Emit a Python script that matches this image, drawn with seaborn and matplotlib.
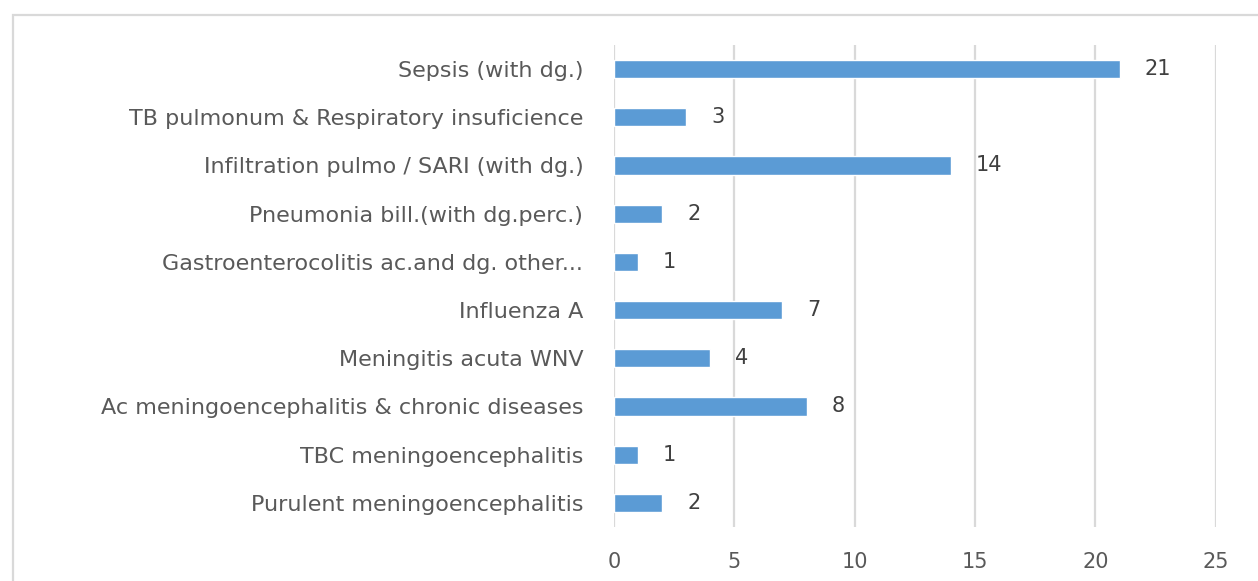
import matplotlib
matplotlib.use("Agg")
import matplotlib.pyplot as plt
import seaborn as sns
import pandas as pd
from matplotlib.patches import Rectangle

# data (top to bottom as shown)
categories = [
    "Sepsis (with dg.)",
    "TB pulmonum & Respiratory insuficience",
    "Infiltration pulmo / SARI (with dg.)",
    "Pneumonia bill.(with dg.perc.)",
    "Gastroenterocolitis ac.and dg. other...",
    "Influenza A",
    "Meningitis acuta WNV",
    "Ac meningoencephalitis & chronic diseases",
    "TBC meningoencephalitis",
    "Purulent meningoencephalitis",
]
counts = [21, 3, 14, 2, 1, 7, 4, 8, 1, 2]
x_ticks = [0, 5, 10, 15, 20, 25]

df = pd.DataFrame({"category": categories, "count": counts})

sns.set_style("white")
plt.rcParams["font.family"] = ["DejaVu Sans"]
text_color = "#595959"
grid_color = "#D9D9D9"

fig = plt.figure(figsize=(12.58, 5.81), dpi=100)
ax = fig.add_axes([0.488, 0.093, 0.4785, 0.8296])

sns.barplot(data=df, x="count", y="category", color="#5B9BD5",
            width=0.38, saturation=1, ax=ax, zorder=3)

# value labels
for c in ax.containers:
    ax.bar_label(c, padding=18, fontsize=15, color="#404040")

ax.set_xlim(0, 25)
ax.set_ylim(len(categories) - 0.5, -0.5)
ax.set_xticks(x_ticks)
ax.set_xlabel("")
ax.set_ylabel("")
ax.xaxis.grid(True, color=grid_color, linewidth=1.6, zorder=0)
ax.set_axisbelow(True)
for s in ax.spines.values():
    s.set_visible(False)
ax.tick_params(axis="y", length=0, pad=22, labelsize=16, labelcolor=text_color)
ax.tick_params(axis="x", length=0, pad=18, labelsize=15, labelcolor=text_color)

# chart-area border (cut off at right and bottom)
fig.patches.append(Rectangle((13 / 1258, -0.2), 1.2, 1 - 15 / 581 + 0.2,
                             transform=fig.transFigure, fill=False,
                             edgecolor=grid_color, linewidth=1.6))

fig.savefig("out.png", dpi=100)
